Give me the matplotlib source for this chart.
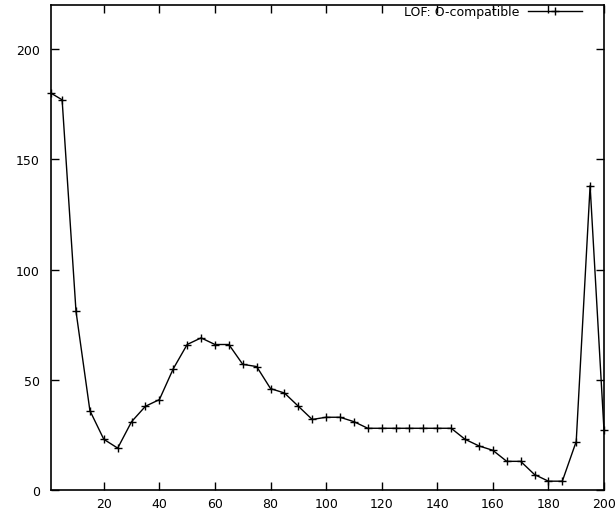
import matplotlib
matplotlib.use("Agg")
import matplotlib.pyplot as plt

# LOF values
xs = [1, 5, 10, 15, 20, 25, 30, 35, 40, 45, 50, 55, 60, 65, 70, 75, 80, 85, 90, 95,
      100, 105, 110, 115, 120, 125, 130, 135, 140, 145, 150, 155, 160, 165, 170, 175,
      180, 185, 190, 195, 200]
lof = [180, 177, 81, 36, 23, 19, 31, 38, 41, 55, 66, 69, 66, 66, 57, 56, 46, 44, 38, 32,
       33, 33, 31, 28, 28, 28, 28, 28, 28, 28, 23, 20, 18, 13, 13, 7,
       4, 4, 22, 138, 27]
xticks = [20, 40, 60, 80, 100, 120, 140, 160, 180, 200]
yticks = [0, 50, 100, 150, 200]

plt.rcParams['font.family'] = ['DejaVu Sans']

fig = plt.figure(figsize=(6.16, 5.10), dpi=100)
ax = fig.add_axes([51 / 616, 19 / 510, (604 - 51) / 616, (491 - 6) / 510])

ax.plot(xs, lof, color="black", lw=1, marker="+", ms=6, mew=1,
        label="LOF: O-compatible", clip_on=False)

ax.set_xlim(1, 200)
ax.set_ylim(0, 220)
ax.set_xticks(xticks)
ax.set_yticks(yticks)
ax.tick_params(direction="in", length=6, width=1, top=True, right=True,
               labelsize=9, colors="black")
ax.tick_params(axis="y", pad=8)
ax.tick_params(axis="x", pad=5)
for s in ax.spines.values():
    s.set_linewidth(1.2)

ax.legend(loc="upper right", bbox_to_anchor=(0.96, 1.0), frameon=False,
          markerfirst=False, fontsize=9, handlelength=4.3, borderpad=0,
          borderaxespad=0, handletextpad=0.7)

fig.savefig("out.png", dpi=100)
